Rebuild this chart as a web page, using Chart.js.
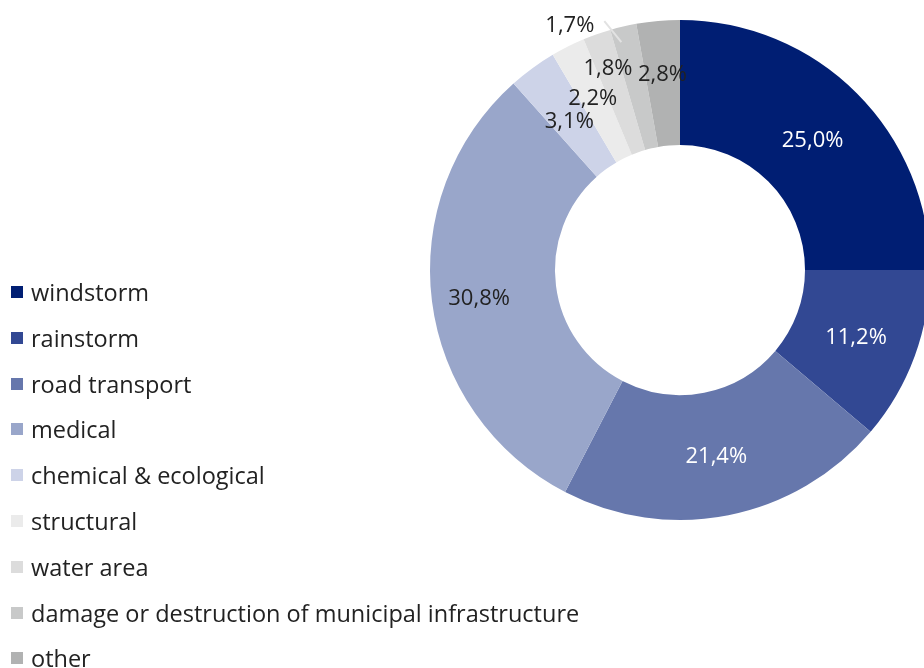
<!DOCTYPE html>
<html>
<head>
<meta charset="utf-8">
<script src="https://cdn.jsdelivr.net/npm/chart.js@4/dist/chart.umd.min.js"></script>
<style>
  html, body { margin: 0; padding: 0; background: #fff; overflow: hidden; width: 924px; height: 668px; }
  #wrap { position: absolute; left: 0; top: 0; width: 940px; height: 668px; }
  #legend { position: absolute; left: 11px; top: 277px; margin: 0; padding: 0; list-style: none;
            font-family: "Open Sans", "Noto Sans", sans-serif; font-size: 23.5px; color: #222; }
  #legend li { height: 45.8px; line-height: 30px; white-space: nowrap; display: flex; align-items: flex-start; }
  #legend .sw { display: inline-block; flex: none; width: 12px; height: 12px; margin: 9px 8px 0 0; }
</style>
</head>
<body>
<div id="wrap"><canvas id="c" width="940" height="668"></canvas></div>
<ul id="legend"></ul>
<script>
const categories = ["windstorm", "rainstorm", "road transport", "medical", "chemical & ecological",
                    "structural", "water area", "damage or destruction of municipal infrastructure", "other"];
const shares = [25.0, 11.2, 21.4, 30.8, 3.1, 2.2, 1.8, 1.7, 2.8];
const valueLabels = ["25,0%", "11,2%", "21,4%", "30,8%", "3,1%", "2,2%", "1,8%", "1,7%", "2,8%"];
const colors = ["#001e73", "#324893", "#6677ac", "#99a6ca", "#cdd3e8", "#ebebeb", "#dcdcdc", "#c8c9c9", "#b1b2b2"];
const labelColors = ["#ffffff", "#ffffff", "#ffffff", "#222222", "#222222", "#222222", "#222222", "#222222", "#222222"];
// label radius adjustment (style): extra px beyond mid-ring; null = outside label with leader line
const labelRadiusShift = [0, 0, 0, 15, 0, 7, 29, null, 12];

// HTML legend from the data
const ul = document.getElementById('legend');
categories.forEach((c, i) => {
  const li = document.createElement('li');
  const sw = document.createElement('span');
  sw.className = 'sw'; sw.style.background = colors[i];
  li.appendChild(sw);
  li.appendChild(document.createTextNode(c));
  ul.appendChild(li);
});

const labelPlugin = {
  id: 'sliceLabels',
  afterDatasetsDraw(chart) {
    const ctx = chart.ctx;
    const meta = chart.getDatasetMeta(0);
    ctx.save();
    ctx.font = '22px "Open Sans", "Noto Sans", sans-serif';
    ctx.textAlign = 'center';
    ctx.textBaseline = 'middle';
    meta.data.forEach((arc, i) => {
      const p = arc.getProps(['x', 'y', 'startAngle', 'endAngle', 'innerRadius', 'outerRadius'], true);
      const mid = (p.startAngle + p.endAngle) / 2;
      const shift = labelRadiusShift[i];
      if (shift === null) {
        const r1 = p.outerRadius - 14;
        const sx = p.x + Math.cos(mid) * r1 - 5, sy = p.y + Math.sin(mid) * r1 + 2;
        const ex = sx - 17, ey = sy - 21;
        ctx.strokeStyle = '#e2e2e2';
        ctx.lineWidth = 2;
        ctx.beginPath(); ctx.moveTo(sx, sy); ctx.lineTo(ex, ey); ctx.stroke();
        ctx.fillStyle = labelColors[i];
        ctx.textAlign = 'right';
        ctx.fillText(valueLabels[i], ex - 10, ey + 5);
        ctx.textAlign = 'center';
        return;
      }
      const r = (p.innerRadius + p.outerRadius) / 2 + shift;
      const x = p.x + Math.cos(mid) * r, y = p.y + Math.sin(mid) * r + 3;
      ctx.fillStyle = labelColors[i];
      ctx.fillText(valueLabels[i], x, y);
    });
    ctx.restore();
  }
};

new Chart(document.getElementById('c'), {
  type: 'doughnut',
  data: {
    labels: categories,
    datasets: [{
      data: shares,
      backgroundColor: colors,
      borderWidth: 0,
      hoverOffset: 0
    }]
  },
  options: {
    responsive: false,
    animation: false,
    cutout: '50%',
    layout: { padding: { left: 430, right: 10, top: 20, bottom: 148 } },
    plugins: {
      legend: { display: false },
      tooltip: { enabled: false }
    }
  },
  plugins: [labelPlugin]
});
</script>
</body>
</html>
